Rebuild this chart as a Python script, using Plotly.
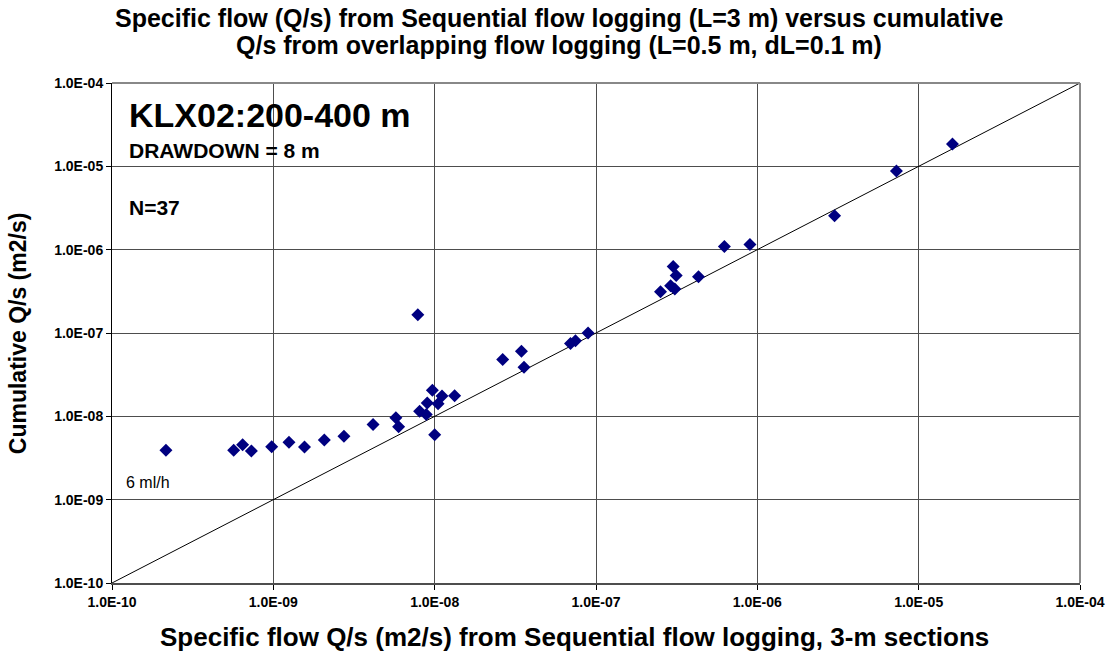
import plotly.graph_objects as go

# Sequential flow logging (x) vs cumulative overlapping flow logging (y), m2/s
seq_qs = [2.16e-10, 5.68e-10, 6.45e-10, 7.31e-10, 9.77e-10, 1.25e-9, 1.56e-9, 2.07e-9,
          2.74e-9, 4.15e-9, 5.75e-9, 5.98e-9,
          8.07e-9, 8.87e-9, 9.0e-9, 9.68e-9, 1.0e-8, 1.05e-8, 1.11e-8, 1.33e-8,
          7.86e-9,
          2.64e-8, 3.45e-8, 3.58e-8,
          6.95e-8, 7.46e-8, 8.93e-8,
          2.51e-7, 2.90e-7, 3.08e-7, 3.01e-7, 3.14e-7, 4.32e-7,
          6.25e-7, 9.0e-7,
          3.01e-6, 7.28e-6, 1.62e-5]
cum_qs = [3.91e-9, 3.91e-9, 4.57e-9, 3.84e-9, 4.33e-9, 4.88e-9, 4.29e-9, 5.2e-9,
          5.75e-9, 8.0e-9, 9.6e-9, 7.5e-9,
          1.15e-8, 1.05e-8, 1.45e-8, 2.05e-8, 6.0e-9, 1.42e-8, 1.75e-8, 1.77e-8,
          1.66e-7,
          4.82e-8, 6.06e-8, 3.89e-8,
          7.5e-8, 8.09e-8, 1.0e-7,
          3.13e-7, 3.69e-7, 3.37e-7, 6.28e-7, 4.9e-7, 4.73e-7,
          1.09e-6, 1.15e-6,
          2.56e-6, 8.77e-6, 1.85e-5]

line_x = [1e-10, 1e-4]
line_y = [1e-10, 1e-4]

tick_vals = [1e-10, 1e-9, 1e-8, 1e-7, 1e-6, 1e-5, 1e-4]
tick_text = ["1.0E-10", "1.0E-09", "1.0E-08", "1.0E-07", "1.0E-06", "1.0E-05", "1.0E-04"]

title_lines = ["Specific flow (Q/s) from Sequential flow logging (L=3 m) versus cumulative",
               "Q/s from overlapping flow logging (L=0.5 m, dL=0.1 m)"]
x_title = "Specific flow Q/s (m2/s) from Sequential flow logging, 3-m sections"
y_title = "Cumulative Q/s (m2/s)"

FONT = "Liberation Sans, Arial, sans-serif"

fig = go.Figure()
fig.add_trace(go.Scatter(x=line_x, y=line_y, mode="lines",
                         line=dict(color="black", width=1), hoverinfo="skip",
                         showlegend=False))
fig.add_trace(go.Scatter(x=seq_qs, y=cum_qs, mode="markers",
                         marker=dict(symbol="diamond", size=10, color="#000080",
                                     line=dict(width=0)),
                         showlegend=False))

axis_common = dict(type="log", range=[-10, -4], tickvals=tick_vals, ticktext=tick_text,
                   showgrid=True, gridcolor="#4d4d4d", gridwidth=1,
                   zeroline=False, ticks="outside", ticklen=5, tickcolor="black",
                   tickfont=dict(family=FONT, size=14, color="black", weight="bold"),
                   showline=True, mirror=False)


def ann(text, x, y, size, bold=True, xanchor="left", angle=0):
    return dict(text=text, xref="paper", yref="paper", x=x, y=y,
                xanchor=xanchor, yanchor="middle", showarrow=False, textangle=angle,
                font=dict(family=FONT, size=size, color="black",
                          weight="bold" if bold else "normal"))


fig.update_layout(
    width=1117, height=656,
    margin=dict(l=112, r=35, t=83, b=73),
    paper_bgcolor="white", plot_bgcolor="white",
    xaxis=dict(**axis_common, linecolor="#4d4d4d", linewidth=2),
    yaxis=dict(**axis_common, linecolor="black", linewidth=1),
    shapes=[
        dict(type="line", xref="paper", yref="paper", x0=0, x1=1, y0=1, y1=1,
             line=dict(color="#888888", width=2)),
        dict(type="line", xref="paper", yref="paper", x0=1, x1=1, y0=0, y1=1,
             line=dict(color="#888888", width=2)),
    ],
    annotations=[
        ann(title_lines[0], 0.462, 1.13, 25, xanchor="center"),
        ann(title_lines[1], 0.462, 1.076, 25, xanchor="center"),
        ann(x_title, 0.478, -0.108, 26, xanchor="center"),
        ann(y_title, -0.0969, 0.5, 23, xanchor="center", angle=-90),
        ann("KLX02:200-400 m", 0.0155, 0.936, 34),
        ann("DRAWDOWN = 8 m", 0.0155, 0.866, 21),
        ann("N=37", 0.0155, 0.752, 21),
        ann("6 ml/h", 0.0124, 0.202, 16, bold=False),
    ],
)

fig.write_html("out.html")
